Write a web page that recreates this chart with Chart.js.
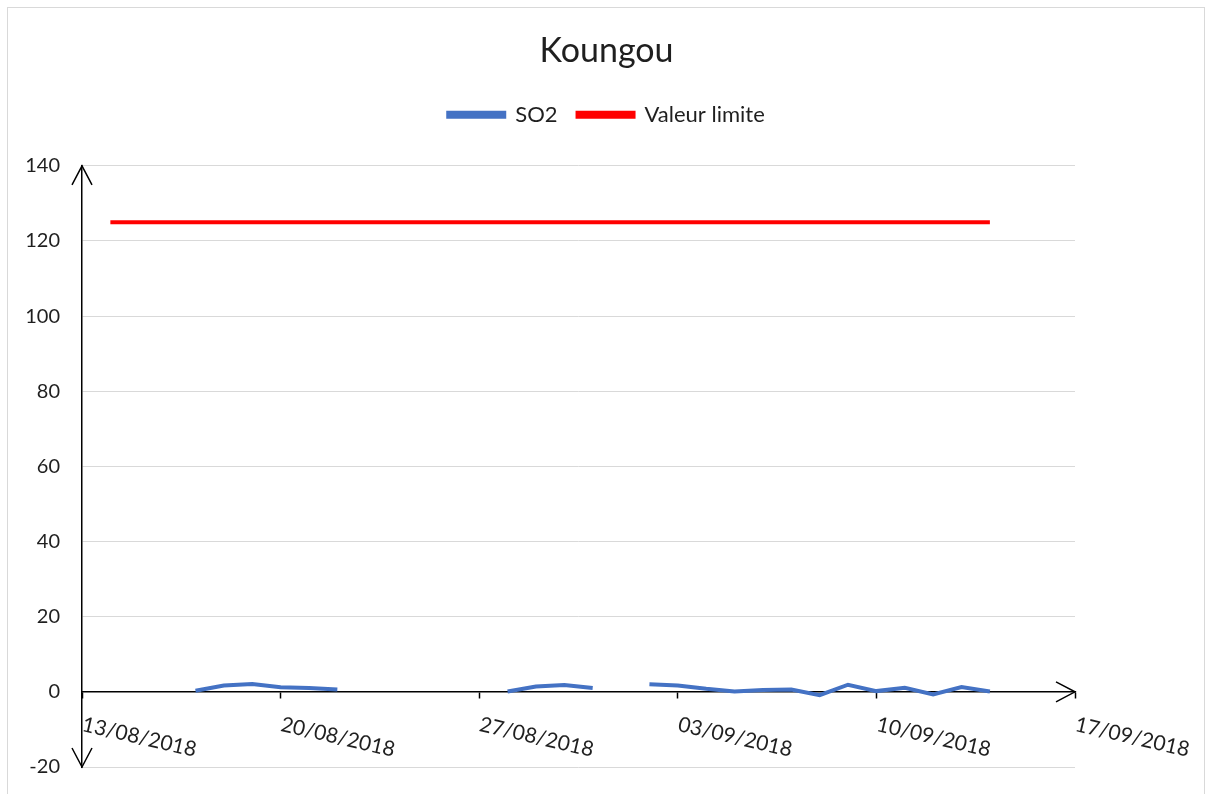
<!DOCTYPE html>
<html>
<head>
<meta charset="utf-8">
<script src="https://cdn.jsdelivr.net/npm/chart.js@4.4.0/dist/chart.umd.min.js"></script>
<style>
  html, body { margin: 0; padding: 0; background: #fff; overflow: hidden; }
  #frame { position: absolute; left: 7px; top: 7px; width: 1198px; height: 820px; border: 1px solid #d9d9d9; box-sizing: border-box; }
  #wrap { position: absolute; left: 0; top: 0; width: 1213px; height: 794px; }
</style>
</head>
<body>
<div id="frame"></div>
<div id="wrap"><canvas id="chart" width="1213" height="794"></canvas></div>
<script>
const chartTitle = 'Koungou';
const seriesNames = ['SO2', 'Valeur limite'];

const so2Dates = [
  '17/08/2018', '18/08/2018', '19/08/2018', '20/08/2018', '21/08/2018', '22/08/2018',
  '23/08/2018', '24/08/2018', '25/08/2018', '26/08/2018', '27/08/2018',
  '28/08/2018', '29/08/2018', '30/08/2018', '31/08/2018', '01/09/2018',
  '02/09/2018', '03/09/2018', '04/09/2018', '05/09/2018', '06/09/2018', '07/09/2018',
  '08/09/2018', '09/09/2018', '10/09/2018', '11/09/2018', '12/09/2018', '13/09/2018', '14/09/2018'
];
const so2Values = [
  0.3, 1.7, 2.1, 1.2, 1.0, 0.6,
  null, null, null, null, null,
  0.1, 1.4, 1.8, 1.0, null,
  2.0, 1.7, 0.8, 0.1, 0.5, 0.6,
  -0.9, 1.9, 0.2, 1.1, -0.7, 1.3, 0.1
];

const limitDates = ['14/08/2018', '14/09/2018'];
const limitValues = [125, 125];

const xTickLabels = ['13/08/2018', '20/08/2018', '27/08/2018', '03/09/2018', '10/09/2018', '17/09/2018'];
const yTickLabels = [-20, 0, 20, 40, 60, 80, 100, 120, 140];

const FONT = 'Lato, "Open Sans", sans-serif';
const TEXT = '#1f1f1f';

// dd/mm/yyyy -> day number
function dayNumber(s) {
  const [d, m, y] = s.split('/').map(Number);
  return Date.UTC(y, m - 1, d) / 86400000;
}

function arrow(ctx, tipX, tipY, dx, dy) {
  // open arrowhead, (dx,dy) points along the shaft direction
  const len = 19, half = 10;
  const bx = tipX - dx * len, by = tipY - dy * len;
  ctx.beginPath();
  ctx.moveTo(bx - dy * half, by + dx * half);
  ctx.lineTo(tipX, tipY);
  ctx.lineTo(bx + dy * half, by - dx * half);
  ctx.stroke();
}

// extra room under the legend, down to the top of the plot
const legendSpacer = {
  id: 'legendSpacer',
  afterInit(chart) {
    const fit = chart.legend.fit;
    chart.legend.fit = function () {
      fit.call(this);
      this.height += 30;
    };
  }
};

const axisDecor = {
  id: 'axisDecor',
  afterDraw(chart) {
    const ctx = chart.ctx;
    const xs = chart.scales.x, ys = chart.scales.y;
    const area = chart.chartArea;
    const y0 = ys.getPixelForValue(0);

    ctx.save();
    ctx.strokeStyle = '#000';
    ctx.lineWidth = 1.5;
    arrow(ctx, area.left, area.top, 0, -1);
    arrow(ctx, area.left, area.bottom, 0, 1);
    arrow(ctx, area.right, y0, 1, 0);

    // date labels, turned clockwise below the zero line
    ctx.fillStyle = TEXT;
    ctx.font = '21px ' + FONT;
    ctx.textAlign = 'left';
    ctx.textBaseline = 'top';
    xs.ticks.forEach(t => {
      const px = xs.getPixelForValue(t.value);
      ctx.save();
      ctx.translate(px + 3, y0 + 22);
      ctx.rotate(13 * Math.PI / 180);
      ctx.fillText(t.label, 0, 0);
      ctx.restore();
    });
    ctx.restore();
  }
};

new Chart(document.getElementById('chart'), {
  type: 'line',
  data: {
    datasets: [
      {
        label: seriesNames[0],
        data: so2Dates.map((d, i) => ({ x: dayNumber(d), y: so2Values[i] })),
        borderColor: '#4472C4',
        backgroundColor: '#4472C4',
        borderWidth: 4,
        pointRadius: 0,
        spanGaps: false
      },
      {
        label: seriesNames[1],
        data: limitDates.map((d, i) => ({ x: dayNumber(d), y: limitValues[i] })),
        borderColor: '#FF0000',
        backgroundColor: '#FF0000',
        borderWidth: 4,
        pointRadius: 0
      }
    ]
  },
  options: {
    responsive: false,
    animation: false,
    layout: { padding: { top: 0, right: 0, bottom: 27, left: 0 } },
    plugins: {
      title: {
        display: true,
        text: chartTitle,
        color: TEXT,
        font: { family: FONT, size: 34, weight: 'normal' },
        padding: { top: 31, bottom: 12 }
      },
      legend: {
        position: 'top',
        labels: {
          color: TEXT,
          font: { family: FONT, size: 22 },
          boxWidth: 56,
          boxHeight: 4,
          padding: 20
        }
      },
      tooltip: { enabled: false }
    },
    scales: {
      x: {
        type: 'linear',
        position: { y: 0 },
        min: dayNumber(xTickLabels[0]),
        max: dayNumber(xTickLabels[xTickLabels.length - 1]),
        afterBuildTicks: s => { s.ticks = xTickLabels.map(l => ({ value: dayNumber(l) })); },
        afterFit: s => { s.height = 0; },
        ticks: { display: false, callback: (v, i) => xTickLabels[i] },
        grid: { drawOnChartArea: false, drawTicks: true, tickLength: 6, tickColor: '#000', tickWidth: 1.5 },
        border: { display: true, color: '#000', width: 1.5 }
      },
      y: {
        min: yTickLabels[0],
        max: yTickLabels[yTickLabels.length - 1],
        afterBuildTicks: s => { s.ticks = yTickLabels.map(v => ({ value: v })); },
        afterFit: s => { s.width = 82; },
        ticks: { color: TEXT, font: { family: FONT, size: 20 }, padding: 0 },
        grid: { color: '#d9d9d9', lineWidth: 1, drawTicks: true, tickLength: 22, tickColor: 'rgba(0,0,0,0)' },
        border: { display: true, color: '#000', width: 1.5 }
      },
      // empty right-hand gutter so the title and legend stay centred on the canvas
      gutter: {
        type: 'linear',
        position: 'right',
        min: 0,
        max: 1,
        afterFit: s => { s.width = 138; },
        ticks: { display: false },
        grid: { display: false, drawTicks: false },
        border: { display: false }
      }
    }
  },
  plugins: [legendSpacer, axisDecor]
});
</script>
</body>
</html>
